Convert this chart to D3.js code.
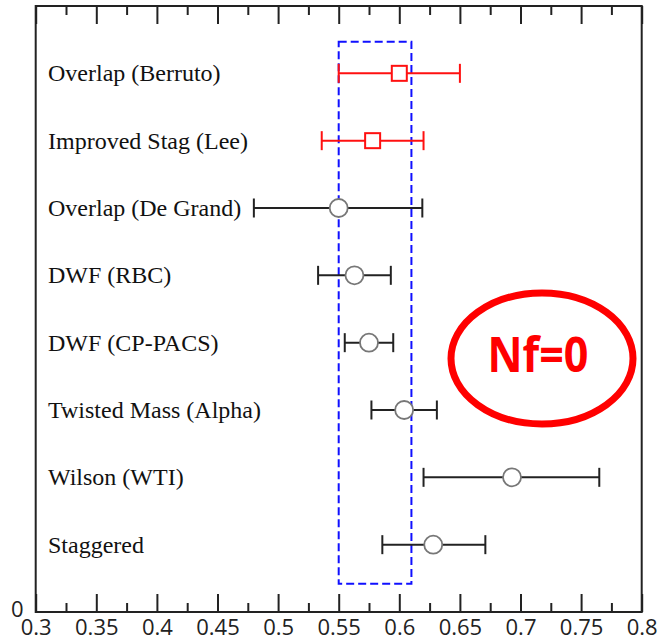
<!DOCTYPE html>
<html>
<head>
<meta charset="utf-8">
<script src="https://cdn.jsdelivr.net/npm/d3@7"></script>
<style>
  html, body { margin: 0; padding: 0; background: #fff; }
  svg { display: block; }
</style>
</head>
<body>
<svg id="chart" width="671" height="641"></svg>
<script>
// Lattice results, one row per method (top to bottom)
const methods = [
  "Overlap (Berruto)",
  "Improved Stag (Lee)",
  "Overlap (De Grand)",
  "DWF (RBC)",
  "DWF (CP-PACS)",
  "Twisted Mass (Alpha)",
  "Wilson (WTI)",
  "Staggered"
];
const rowPos   = [8, 7, 6, 5, 4, 3, 2, 1];
const central  = [0.600, 0.578, 0.550, 0.563, 0.575, 0.604, 0.693, 0.628];
const lowerErr = [0.550, 0.536, 0.480, 0.533, 0.555, 0.577, 0.620, 0.586];
const upperErr = [0.650, 0.620, 0.619, 0.593, 0.595, 0.631, 0.765, 0.671];
const markers  = ["square", "square", "circle", "circle", "circle", "circle", "circle", "circle"];

// Axis ticks
const xDomain = [0.3, 0.8];
const yDomain = [0, 9];
const majorTicks = [0.3, 0.35, 0.4, 0.45, 0.5, 0.55, 0.6, 0.65, 0.7, 0.75, 0.8];
const minorTicks = [0.325, 0.375, 0.425, 0.475, 0.525, 0.575, 0.625, 0.675, 0.725, 0.775];
const yTicks = [0];

// Highlighted band and annotation
const bandX = [0.55, 0.61];
const bandY = [0.42, 8.47];
const noteText = "Nf=0";

const svg = d3.select("#chart");
const plot = { left: 35.7, right: 641.7, top: 6, bottom: 612 };

const x = d3.scaleLinear().domain(xDomain).range([plot.left, plot.right]);
const y = d3.scaleLinear().domain(yDomain).range([plot.bottom, plot.top]);

const fmt = d => String(+d.toFixed(3));

// Bottom axis: major ticks with labels, pointing inward
const gB = svg.append("g").attr("transform", `translate(0,${plot.bottom})`)
  .call(d3.axisBottom(x).tickValues(majorTicks).tickSizeInner(-18).tickSizeOuter(0)
    .tickPadding(7).tickFormat(fmt));
gB.selectAll("text").attr("font-family", "'Open Sans', sans-serif").attr("font-size", 22)
  .attr("fill", "#222");
svg.append("g").attr("transform", `translate(0,${plot.bottom})`)
  .call(d3.axisBottom(x).tickValues(minorTicks).tickSizeInner(-9).tickSizeOuter(0).tickFormat(""));

// Top axis: ticks only, pointing down
svg.append("g").attr("transform", `translate(0,${plot.top})`)
  .call(d3.axisTop(x).tickValues(majorTicks).tickSizeInner(-18).tickSizeOuter(0).tickFormat(""));
svg.append("g").attr("transform", `translate(0,${plot.top})`)
  .call(d3.axisTop(x).tickValues(minorTicks).tickSizeInner(-9).tickSizeOuter(0).tickFormat(""));

// Left axis: only the zero label
const gL = svg.append("g").attr("transform", `translate(${plot.left},0)`)
  .call(d3.axisLeft(y).tickValues(yTicks).tickSize(0).tickPadding(12).tickFormat(d3.format("d")));
gL.selectAll("text").attr("font-family", "'Open Sans', sans-serif").attr("font-size", 22)
  .attr("fill", "#222").attr("dy", "0.2em");

svg.selectAll(".domain").remove();
svg.selectAll(".tick line").attr("stroke", "#222").attr("stroke-width", 2);

// Plot frame
svg.append("rect")
  .attr("x", plot.left).attr("y", plot.top)
  .attr("width", plot.right - plot.left).attr("height", plot.bottom - plot.top)
  .attr("fill", "none").attr("stroke", "#222").attr("stroke-width", 2);

// Dashed band
svg.append("rect")
  .attr("x", x(bandX[0])).attr("y", y(bandY[1]))
  .attr("width", x(bandX[1]) - x(bandX[0]))
  .attr("height", y(bandY[0]) - y(bandY[1]))
  .attr("fill", "none").attr("stroke", "#1010ff").attr("stroke-width", 2)
  .attr("stroke-dasharray", "8,4");

// Method labels
svg.append("g").selectAll("text").data(methods).join("text")
  .attr("x", 48)
  .attr("y", (d, i) => y(rowPos[i]))
  .attr("dy", "0.33em")
  .attr("font-family", "'Liberation Serif', 'Times New Roman', serif")
  .attr("font-size", 24)
  .attr("fill", "#111")
  .text(d => d);

// Error bars
const capH = 9.5;
const rows = methods.map((m, i) => ({
  m, row: rowPos[i], c: central[i], lo: lowerErr[i], hi: upperErr[i],
  marker: markers[i], color: markers[i] === "square" ? "#ff1010" : "#222"
}));
const gE = svg.append("g");
rows.forEach(d => {
  const g = gE.append("g").attr("stroke", d.color).attr("stroke-width", 2).attr("fill", "none");
  const yy = y(d.row);
  g.append("line").attr("x1", x(d.lo)).attr("x2", x(d.hi)).attr("y1", yy).attr("y2", yy);
  g.append("line").attr("x1", x(d.lo)).attr("x2", x(d.lo)).attr("y1", yy - capH).attr("y2", yy + capH);
  g.append("line").attr("x1", x(d.hi)).attr("x2", x(d.hi)).attr("y1", yy - capH).attr("y2", yy + capH);
  if (d.marker === "square") {
    g.append("rect").attr("x", x(d.c) - 7.5).attr("y", yy - 7.5)
      .attr("width", 15).attr("height", 15).attr("fill", "#fff");
  } else {
    g.append("circle").attr("cx", x(d.c)).attr("cy", yy).attr("r", 9)
      .attr("fill", "#fff").attr("stroke", "#777").attr("stroke-width", 1.8);
  }
});

// Annotation ellipse
svg.append("ellipse")
  .attr("cx", 542).attr("cy", 358.5).attr("rx", 91).attr("ry", 65.5)
  .attr("fill", "none").attr("stroke", "#ff0000").attr("stroke-width", 7);
svg.append("text")
  .attr("x", 538).attr("y", 372)
  .attr("text-anchor", "middle")
  .attr("font-family", "'Open Sans', sans-serif").attr("font-weight", "bold")
  .attr("font-size", 48).attr("fill", "#ff0000")
  .attr("textLength", 101).attr("lengthAdjust", "spacingAndGlyphs")
  .text(noteText);
</script>
</body>
</html>
